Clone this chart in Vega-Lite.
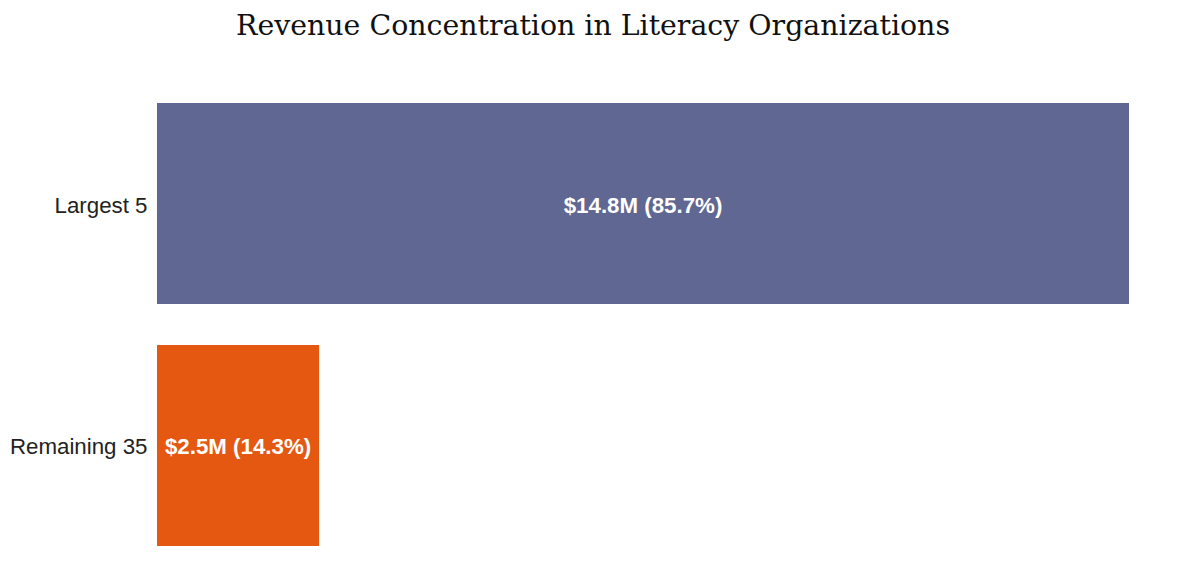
{
  "$schema": "https://vega.github.io/schema/vega-lite/v6.json",
  "width": 972,
  "height": 443,
  "autosize": {"type": "none"},
  "padding": {"left": 157, "top": 103, "right": 58, "bottom": 33},
  "background": "white",
  "title": {
    "text": "Revenue Concentration in Literacy Organizations",
    "font": "DejaVu Serif",
    "fontSize": 28.4,
    "fontWeight": "normal",
    "color": "#111111",
    "anchor": "middle",
    "dx": -50,
    "offset": 62
  },
  "config": {
    "view": {"stroke": null}
  },
  "data": {
    "values": [
      {"group": "Largest 5", "revenue": 14.81, "label": "$14.8M (85.7%)"},
      {"group": "Remaining 35", "revenue": 2.47, "label": "$2.5M (14.3%)"}
    ]
  },
  "encoding": {
    "y": {
      "field": "group",
      "type": "nominal",
      "sort": ["Largest 5", "Remaining 35"],
      "scale": {"paddingInner": 0.169, "paddingOuter": 0},
      "axis": {
        "title": null,
        "domain": false,
        "ticks": false,
        "labelFont": "Liberation Sans",
        "labelFontSize": 22.3,
        "labelColor": "#222222",
        "labelPadding": 10,
        "labelOffset": 2
      }
    }
  },
  "layer": [
    {
      "mark": {"type": "bar"},
      "encoding": {
        "x": {
          "field": "revenue",
          "type": "quantitative",
          "scale": {"domain": [0, 14.81], "nice": false},
          "axis": null
        },
        "color": {
          "field": "group",
          "type": "nominal",
          "scale": {"domain": ["Largest 5", "Remaining 35"], "range": ["#5f6792", "#e55812"]},
          "legend": null
        }
      }
    },
    {
      "transform": [{"calculate": "datum.revenue / 2", "as": "mid"}],
      "mark": {
        "type": "text",
        "color": "white",
        "font": "Liberation Sans",
        "fontSize": 22.3,
        "fontWeight": "bold",
        "align": "center",
        "baseline": "middle",
        "dy": 2
      },
      "encoding": {
        "x": {"field": "mid", "type": "quantitative"},
        "text": {"field": "label"}
      }
    }
  ]
}
